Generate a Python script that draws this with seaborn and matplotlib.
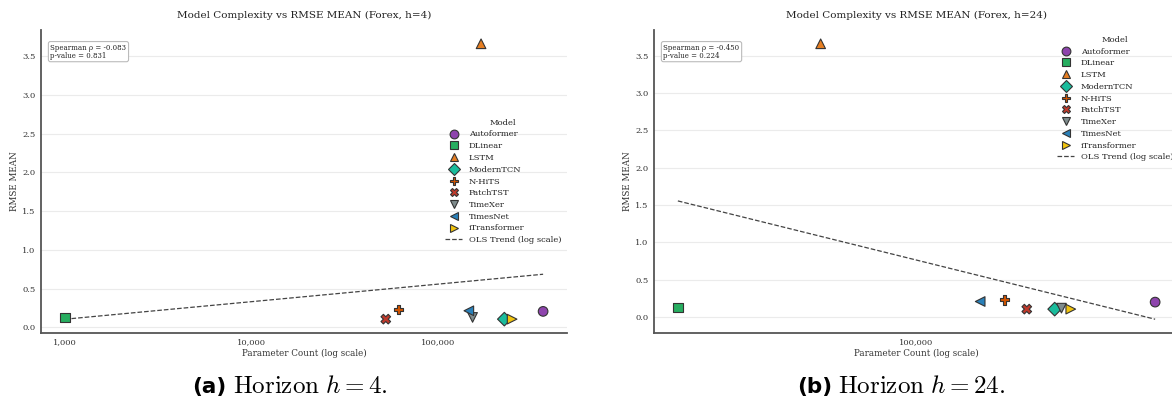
import numpy as np
import pandas as pd
import matplotlib
matplotlib.use("Agg")
import matplotlib.pyplot as plt
from matplotlib.lines import Line2D
from matplotlib.ticker import FuncFormatter, NullFormatter, LogLocator
import seaborn as sns

# ---- data -------------------------------------------------------------
models = ["Autoformer", "DLinear", "LSTM", "ModernTCN", "N-HiTS",
          "PatchTST", "TimeXer", "TimesNet", "iTransformer"]

params_h4 = [368000, 1000, 171000, 228000, 61700, 52700, 154000, 147000, 251000]
rmse_h4 = [0.206, 0.128, 3.66, 0.106, 0.232, 0.106, 0.128, 0.214, 0.106]

params_h24 = [368000, 27400, 59600, 213000, 162000, 183000, 221000, 142000, 232500]
rmse_h24 = [0.198, 0.125, 3.66, 0.104, 0.229, 0.104, 0.117, 0.206, 0.104]

spearman_rho = [-0.083, -0.450]
spearman_p = [0.831, 0.224]
horizons = [4, 24]
panel_tags = ["(a)", "(b)"]

model_colors = ["#8e44ad", "#27ae60", "#e67e22", "#1abc9c", "#d35400",
                "#c0392b", "#7f8c8d", "#2980b9", "#f1c40f"]
model_markers = ["o", "s", "^", "D", "P", "X", "v", "<", ">"]

# ---- style ------------------------------------------------------------
sns.set_theme(style="whitegrid")
plt.rcParams.update({
    "font.family": ["DejaVu Serif"],
    "mathtext.fontset": "cm",
    "axes.edgecolor": "#555555",
    "axes.linewidth": 1.3,
    "grid.color": "#ebebeb",
    "grid.linewidth": 0.8,
    "text.color": "#222222",
    "axes.labelcolor": "#333333",
    "xtick.color": "#333333",
    "ytick.color": "#333333",
})

palette = dict(zip(models, model_colors))
marker_map = dict(zip(models, model_markers))

fig = plt.figure(figsize=(11.72, 4.03), dpi=100)
ax_a = fig.add_axes([41 / 1172, 70 / 403, 526 / 1172, 303 / 403])
ax_b = fig.add_axes([654 / 1172, 70 / 403, 525 / 1172, 303 / 403])

panels = [
    (ax_a, params_h4, rmse_h4, "center right"),
    (ax_b, params_h24, rmse_h24, "upper right"),
]

for i, (ax, params, rmse, leg_loc) in enumerate(panels):
    df = pd.DataFrame({"Model": models, "params": params, "rmse": rmse})
    ax.set_xscale("log")
    sns.scatterplot(data=df, x="params", y="rmse", hue="Model", style="Model",
                    palette=palette, markers=marker_map, s=48,
                    edgecolor="#333333", linewidth=0.8, legend=False,
                    ax=ax, zorder=3)

    # OLS fit of RMSE against log10(parameter count)
    lx = np.log10(df["params"].to_numpy())
    slope, intercept = np.polyfit(lx, df["rmse"].to_numpy(), 1)
    xs = np.logspace(lx.min(), lx.max(), 100)
    ax.plot(xs, intercept + slope * np.log10(xs), linestyle="--",
            color="#444444", linewidth=0.9, zorder=2)

    ax.xaxis.set_major_locator(LogLocator(base=10))
    ax.xaxis.set_major_formatter(FuncFormatter(lambda v, _: f"{v:,.0f}"))
    ax.xaxis.set_minor_formatter(NullFormatter())
    ax.xaxis.grid(False)
    ax.yaxis.grid(True)
    ax.tick_params(axis="both", which="both", length=0, labelsize=6, pad=4)

    ax.set_title(f"Model Complexity vs RMSE MEAN (Forex, h={horizons[i]})",
                 fontsize=7.5, pad=9)
    ax.set_xlabel("Parameter Count (log scale)", fontsize=6.3, labelpad=2)
    ax.set_ylabel("RMSE MEAN", fontsize=6.3, labelpad=2.5)
    sns.despine(ax=ax)

    ax.text(0.018, 0.955,
            f"Spearman \u03c1 = {spearman_rho[i]:.3f}\np-value = {spearman_p[i]:.3f}",
            transform=ax.transAxes, ha="left", va="top", fontsize=5,
            linespacing=1.0,
            bbox=dict(boxstyle="round,pad=0.3", fc="white", ec="#bbbbbb", lw=0.8))

    handles = [Line2D([], [], marker=m, linestyle="", markerfacecolor=c,
                      markeredgecolor="#333333", markeredgewidth=0.8,
                      markersize=6.3, color=c)
               for m, c in zip(model_markers, model_colors)]
    handles.append(Line2D([], [], linestyle="--", color="#444444", linewidth=0.9))
    labels = models + ["OLS Trend (log scale)"]
    ax.legend(handles, labels, title="Model", loc=leg_loc, frameon=False,
              fontsize=6, title_fontsize=6, labelspacing=0.45,
              handlelength=2.0, handletextpad=0.8, borderaxespad=0.3)

# ---- sub-figure captions -------------------------------------------------
fig.canvas.draw()
renderer = fig.canvas.get_renderer()
caption_centers = [290, 901]
for tag, h, cx in zip(panel_tags, horizons, caption_centers):
    t1 = fig.text(0, 0, tag, fontsize=15.5, fontweight="bold",
                  family="DejaVu Sans", va="baseline", ha="left",
                  transform=None, color="black")
    t2 = fig.text(0, 0, r"$\mathrm{Horizon}\ h = " + str(h) + r".$",
                  fontsize=18, va="baseline", ha="left", transform=None,
                  color="black")
    w1 = t1.get_window_extent(renderer).width
    w2 = t2.get_window_extent(renderer).width
    gap = 6
    x0 = cx - (w1 + gap + w2) / 2
    base = 403 - 393
    t1.set_position((x0, base))
    t2.set_position((x0 + w1 + gap, base))

fig.savefig("out.png", dpi=100)
